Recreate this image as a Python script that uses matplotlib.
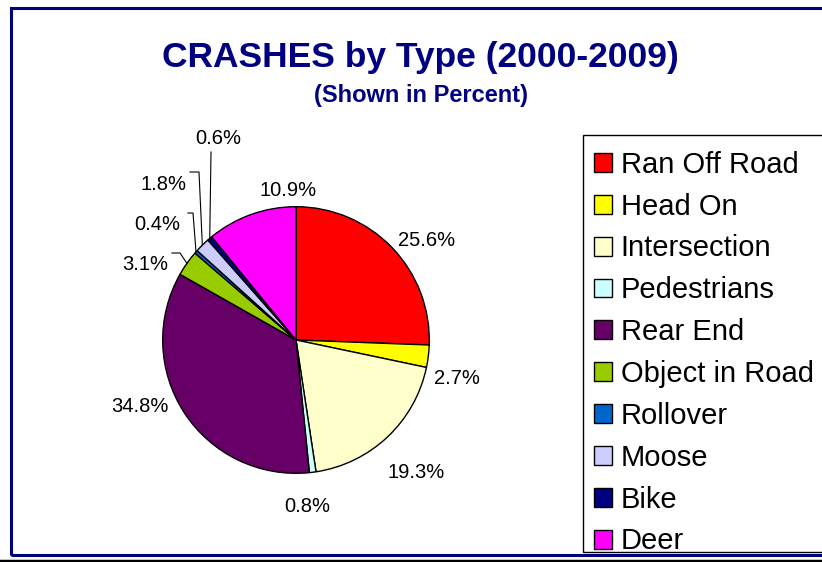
#crash types pie chart, percent shares 2000-2009

import numpy as np
import matplotlib
matplotlib.use("Agg")
import matplotlib.pyplot as plt
from matplotlib.patches import Rectangle
from matplotlib.lines import Line2D

plt.rcParams['font.family'] = ['Liberation Sans', 'DejaVu Sans']

crash_types = ['Ran Off Road', 'Head On', 'Intersection', 'Pedestrians', 'Rear End',
               'Object in Road', 'Rollover', 'Moose', 'Bike', 'Deer']
shares = [25.6, 2.7, 19.3, 0.8, 34.8, 3.1, 0.4, 1.8, 0.6, 10.9]
colors = ['#FF0000', '#FFFF00', '#FFFFCC', '#CCFFFF', '#660066',
          '#99CC00', '#0066CC', '#CCCCFF', '#000080', '#FF00FF']

W, H = 822, 562
navy = '#000080'

#label layout (pixels in figure), leader elbow points for small slices
label_pos = {
    0: (427, 241), 1: (457, 378), 2: (416, 473), 3: (307, 506), 4: (140, 406),
    5: (145, 264), 6: (157, 225), 7: (163, 184), 8: (218, 138), 9: (288, 190),
}
leaders = {
    5: [(172, 253), (180, 253)],
    6: [(188, 213), (193, 213)],
    7: [(190, 172), (199, 172)],
    8: [(211, 152), (211, 152)],
}

fig = plt.figure(figsize=(W / 100, H / 100), dpi=100)

#outer frame
fig.add_artist(Rectangle((11 / W, 1 - 555 / H), 1.0, (555 - 8) / H, transform=fig.transFigure,
                         fill=False, edgecolor=navy, lw=2.2))
fig.add_artist(Line2D([0, 1], [1 - 561 / H, 1 - 561 / H], transform=fig.transFigure,
                      color='black', lw=2.5))

fig.text(0.512, 1 - 57 / H, 'CRASHES by Type (2000-2009)', ha='center', va='center',
         fontsize=25.5, fontweight='bold', color=navy)
fig.text(0.512, 1 - 95 / H, '(Shown in Percent)', ha='center', va='center',
         fontsize=17, fontweight='bold', color=navy)

# pie axes: center at (296,340) px, radius ~133 px
cx, cy, R = 296, 340, 133.3
ax = fig.add_axes([(cx - 200) / W, 1 - (cy + 200) / H, 400 / W, 400 / H])

wedges, _ = ax.pie(shares, colors=colors, startangle=90, counterclock=False,
                   wedgeprops=dict(edgecolor='black', linewidth=1.0))
ax.set_xlim(-200 / R, 200 / R)
ax.set_ylim(-200 / R, 200 / R)
ax.axis('off')

def px2data(p):
    return ((p[0] - cx) / R, (cy - p[1]) / R)

cum = np.cumsum([0] + shares)
for i, val in enumerate(shares):
    x, y = px2data(label_pos[i])
    ax.text(x, y, '%.1f%%' % val, ha='center', va='center', fontsize=14.5)
    if i in leaders:
        mid = (cum[i] + cum[i + 1]) / 2.0
        ang = np.deg2rad(90 - 360 * mid / 100.0)
        pts = [px2data(p) for p in leaders[i]] + [(np.cos(ang), np.sin(ang))]
        ax.plot([p[0] for p in pts], [p[1] for p in pts], color='black', lw=0.8)

#legend box drawn separately (excel clips it tight at the bottom)
fig.add_artist(Rectangle((583 / W, 1 - 552 / H), 0.5, (552 - 135) / H, transform=fig.transFigure,
                         fill=False, edgecolor='black', lw=1.0))
leg = fig.legend(wedges, crash_types, loc='upper left',
                 bbox_to_anchor=(578 / W, 1 - 135 / H), borderaxespad=0,
                 fontsize=21, frameon=False,
                 handlelength=0.62, handleheight=0.62, handletextpad=0.3,
                 labelspacing=0.475, borderpad=0.54)

plt.savefig('out.png', dpi=100)
plt.close()
